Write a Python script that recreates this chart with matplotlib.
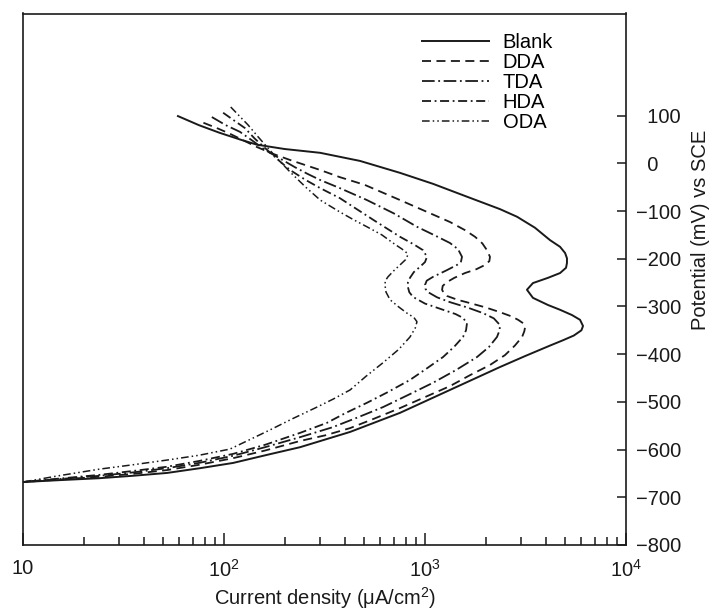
import matplotlib
matplotlib.use("Agg")
import matplotlib.pyplot as plt
from matplotlib.ticker import LogLocator, NullFormatter, FixedLocator

plt.rcParams['font.family'] = ['Liberation Sans', 'DejaVu Sans']
plt.rcParams['mathtext.fontset'] = 'custom'
plt.rcParams['mathtext.rm'] = 'Liberation Sans'
plt.rcParams['mathtext.it'] = 'Liberation Sans:italic'

# ---- data (current density uA/cm2, potential mV vs SCE) ----
blank_i = [59, 75, 95, 120, 146, 200, 301, 475, 751, 1096, 1618, 2360, 2870, 3524, 4188, 4698,
           4977, 5085, 5085, 5030, 4698, 4093, 3444, 3215, 3444, 4093, 4698, 5383, 5906, 6112,
           6000, 5500, 4850, 4188, 3148, 2360, 1331, 751, 424, 239, 164, 111, 76, 52, 35, 24, 15.3, 10]
blank_e = [99, 80, 64, 50, 39, 30, 22, 5, -20, -43, -70, -96, -112, -135, -161, -175,
           -188, -199, -209, -219, -230, -240, -251, -265, -282, -297, -307, -318, -328, -341,
           -350, -361, -371, -382, -404, -427, -475, -523, -563, -595, -611, -628, -639, -649, -655, -660, -664, -668]

dda_i = [79, 92, 107, 125, 146, 175, 213, 255, 301, 377, 500, 751, 1000, 1331, 1580, 1774, 1930,
         2033, 2105, 2090, 1990, 1800, 1581, 1400, 1286, 1225, 1216, 1240, 1286, 1450, 1675, 2000,
         2360, 2700, 2904, 3100, 3148, 3120, 3041, 2800, 2500, 2100, 1675, 1331, 1000, 751, 560,
         424, 320, 239, 160, 111, 75, 52, 35, 24, 15, 10]
dda_e = [85, 74, 62, 48, 34, 20, 7, -4, -14, -29, -45, -77, -100, -123, -140, -154, -168,
         -182, -196, -205, -213, -222, -230, -240, -249, -257, -265, -272, -278, -286, -293, -302,
         -312, -321, -328, -336, -343, -352, -364, -382, -402, -423, -444, -467, -490, -513, -535,
         -555, -570, -582, -602, -618, -632, -643, -651, -657, -663, -668]

tda_i = [87, 102, 120, 140, 160, 190, 225, 260, 301, 377, 514, 700, 912, 1130, 1331, 1460, 1528,
         1510, 1443, 1270, 1096, 1020, 1000, 1005, 1035, 1150, 1331, 1620, 1945, 2200, 2360, 2350,
         2281, 2080, 1815, 1430, 1096, 820, 618, 460, 348, 239, 160, 111, 75, 52, 35, 24, 15, 10]
tda_e = [97, 80, 66, 46, 28, 10, -8, -22, -35, -52, -77, -105, -133, -152, -167, -180, -196,
         -206, -213, -225, -238, -246, -255, -263, -270, -281, -291, -302, -314, -325, -339, -350,
         -364, -385, -406, -433, -460, -486, -511, -533, -553, -574, -595, -613, -628, -639, -648, -655, -662, -668]

hda_i = [99, 112, 127, 142, 160, 185, 213, 255, 301, 377, 424, 560, 751, 880, 977, 1023, 1000,
         944, 880, 842, 822, 822, 835, 871, 1000, 1230, 1420, 1545, 1618, 1600, 1545, 1400, 1230,
         1020, 842, 650, 514, 400, 325, 239, 160, 111, 75, 52, 35, 24, 15, 10]
hda_e = [106, 90, 74, 52, 32, 8, -14, -35, -52, -73, -87, -120, -154, -170, -182, -196, -207,
         -217, -228, -240, -250, -259, -270, -280, -294, -307, -316, -324, -335, -350, -364, -384, -406,
         -430, -454, -480, -502, -524, -544, -565, -590, -609, -624, -636, -645, -653, -661, -668]

oda_i = [108, 120, 132, 146, 160, 185, 213, 255, 301, 377, 440, 514, 610, 693, 770, 813, 822,
         800, 751, 700, 654, 635, 632, 640, 670, 740, 813, 880, 912, 895, 842, 740, 618, 510, 424,
         350, 290, 220, 169, 130, 107, 75, 52, 35, 24, 15, 10]
oda_e = [118, 98, 80, 58, 39, 9, -18, -50, -77, -102, -118, -133, -150, -167, -180, -188, -192,
         -202, -213, -225, -238, -246, -255, -270, -286, -301, -314, -323, -332, -345, -364, -390, -418, -446, -475,
         -494, -511, -535, -559, -582, -599, -612, -622, -632, -641, -655, -668]

labels = ["Blank", "DDA", "TDA", "HDA", "ODA"]
y_ticks = [100, 0, -100, -200, -300, -400, -500, -600, -700, -800]
x_ticks = [10, 100, 1000, 10000]
x_ticklabels = ["10", "$10^2$", "$10^3$", "$10^4$"]

fig = plt.figure(figsize=(7.17, 6.11), dpi=100)
ax = fig.add_axes([23/717, 66/611, 603/717, 531.5/611])

c = '#1a1a1a'
ax.plot(blank_i, blank_e, color=c, lw=1.4, ls='-', label=labels[0])
ax.plot(dda_i, dda_e, color=c, lw=1.3, ls=(0, (5, 3)), label=labels[1])
ax.plot(tda_i, tda_e, color=c, lw=1.3, ls=(0, (7, 2, 1, 2)), label=labels[2])
ax.plot(hda_i, hda_e, color=c, lw=1.3, ls=(0, (5, 2, 1, 2)), label=labels[3])
ax.plot(oda_i, oda_e, color=c, lw=1.1, ls=(0, (5, 2, 1, 2, 1, 2)), label=labels[4])

ax.set_xscale('log')
ax.set_xlim(10, 10000)
ax.set_ylim(-800, 314)

ax.xaxis.set_major_locator(FixedLocator(x_ticks))
ax.set_xticklabels(x_ticklabels)
ax.xaxis.set_minor_locator(LogLocator(base=10, subs=range(2, 10)))
ax.xaxis.set_minor_formatter(NullFormatter())
ax.tick_params(axis='x', which='major', direction='in', length=8.5, width=1.1,
               labelsize=14.5, pad=10, colors=c)
ax.tick_params(axis='x', which='minor', direction='in', length=5.5, width=1.1, colors=c)

ax.yaxis.tick_right()
ax.set_yticks(y_ticks)
ax.set_yticklabels([("\u2212%d" % -v) if v < 0 else ("\u2007" + str(v)) for v in y_ticks])
ax.tick_params(axis='y', which='major', direction='in', length=6.5, width=1.1,
               labelsize=14.5, pad=7, colors=c, left=False, right=True)
for lab in ax.get_yticklabels():
    lab.set_horizontalalignment('left')

for s in ax.spines.values():
    s.set_linewidth(1.2)
    s.set_color(c)

leg = ax.legend(loc='upper left', bbox_to_anchor=(422/717, 1 - 33/611),
                bbox_transform=fig.transFigure, frameon=False, fontsize=14.5,
                handlelength=3.35, handletextpad=0.65, labelspacing=0.05,
                borderpad=0, borderaxespad=0)

fig.text(325/717, 1 - 598/611, "Current density (\u03bcA/cm$^2$)", ha='center', va='center',
         fontsize=14.5, color=c)
fig.text(700/717, 1 - 230/611, "Potential (mV) vs SCE", ha='center', va='center',
         rotation=90, fontsize=14.5, color=c)

fig.savefig("out.png", dpi=100)
